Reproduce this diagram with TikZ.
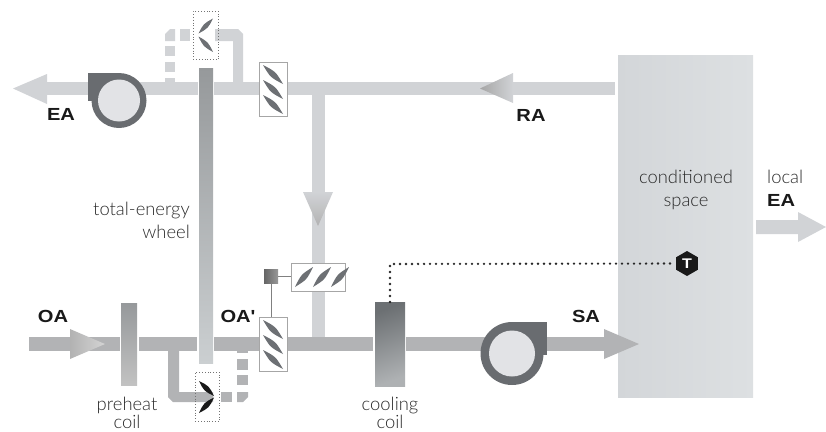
\documentclass[tikz,border=0pt]{standalone}
\usepackage{fontspec}
\setmainfont{Lato}[UprightFont={* Light}]
\newfontfamily\boldlab[FakeStretch=1.15]{Liberation Sans}
\usetikzlibrary{shapes.geometric}
\definecolor{ductup}{HTML}{D1D3D6}
\definecolor{ductlo}{HTML}{B2B3B5}
\definecolor{bladeg}{HTML}{6D7074}
\definecolor{fang}{HTML}{696C70}
\definecolor{fani}{HTML}{E2E3E6}
\definecolor{txt}{HTML}{2A2A2A}
\definecolor{spaceL}{HTML}{D3D6D9}
\definecolor{spaceR}{HTML}{DDE0E2}
\definecolor{coolT}{HTML}{6C7073}
\definecolor{coolB}{HTML}{AEB1B3}
\definecolor{wheelT}{HTML}{96999B}
\definecolor{wheelB}{HTML}{CBCFD1}
\tikzset{
 x=1pt,y=-1pt,
 duu/.style={draw=none,fill=ductup},
 dul/.style={draw=none,fill=ductlo},
 dbox/.style={draw=black!35!white,fill=white,line width=.9pt,minimum width=28pt,minimum height=54pt,inner sep=0pt,anchor=north west},
 dotbox/.style={draw=black!55!white,line width=.8pt,dotted,fill=none,inner sep=0pt,anchor=north west},
 coilbox/.style={inner sep=0pt,anchor=north west},
 lab/.style={font=\fontsize{17.5}{18}\selectfont\boldlab\bfseries,text=black!90!white,inner sep=0pt,anchor=base},
 thin lab/.style={font=\fontsize{18.4}{23}\selectfont,text=txt,inner sep=0pt,align=center},
 coil lab/.style={thin lab,font=\fontsize{18.4}{18.5}\selectfont,anchor=north},
 ctl/.style={draw=black!50!white,line width=1.1pt},
}
\newcommand{\leaf}[6]{% x1 y1 x2 y2 width style
 \fill[#6] (#1,#2) .. controls ({((#1)+(#3))/2+((#4)-(#2))/(#5)},{((#2)+(#4))/2-((#3)-(#1))/(#5)}) .. (#3,#4)
   .. controls ({((#1)+(#3))/2-((#4)-(#2))/(#5)},{((#2)+(#4))/2+((#3)-(#1))/(#5)}) .. cycle;}
\begin{document}
\begin{tikzpicture}
\useasboundingbox (0,0) rectangle (826,431);
\begin{scope}
\clip (0,0) rectangle (826,431);
% conditioned space
\node[minimum width=135pt,minimum height=342pt,inner sep=0pt,draw=none,left color=spaceL,right color=spaceR,anchor=north west] (space) at (618,55) {};
% local EA
\fill[ductup] (756,220) -- (798,220) -- (798,212) -- (826,227) -- (798,242) -- (798,234) -- (756,234) -- cycle;
% upper ducts
\fill[duu] (47,82) rectangle (198,95);
\fill[duu] (214,82) rectangle (615,95);
\fill[duu] (13,88.5) -- (47,74) -- (47,104) -- cycle;
\fill[duu] (312,95) rectangle (325,337);
% return arrow
\path[left color=black!35!white,right color=ductup] (480,88.5) -- (513,73) -- (513,103) -- cycle;
% vertical arrow
\path[top color=ductup,bottom color=black!30!white] (303,192) -- (333,192) -- (318,226) -- cycle;
% upper bypass
\fill[duu] (233,82) -- (233,41) -- (215,41) -- (215,29) -- (238,29) -- (243,34) -- (243,82) -- cycle;
\fill[duu] (180,29) rectangle (190,41);
\fill[duu] (165,41) -- (165,34) -- (170,29) -- (175,29) -- (175,41) -- cycle;
\fill[duu] (165,46) rectangle (175,56);
\fill[duu] (165,62) rectangle (175,72);
\fill[duu] (165,78) rectangle (175,82);
% lower ducts
\fill[dul] (29,337) rectangle (120,351);
\fill[dul] (139,337) rectangle (197,351);
\fill[dul] (214,337) rectangle (373,351);
\fill[dul] (406,337) rectangle (604,351);
\fill[dul] (604,329) -- (639,344) -- (604,359) -- cycle;
\path[left color=black!30!white,right color=black!17!white] (70,329) -- (105,344) -- (70,359) -- cycle;
% lower bypass
\fill[dul] (168,351) -- (179,351) -- (179,392) -- (213,392) -- (213,402) -- (173,402) -- (168,397) -- cycle;
\fill[dul] (221,392) rectangle (232,402);
\fill[dul] (237,392) -- (248,392) -- (248,397) -- (243,402) -- (237,402) -- cycle;
\fill[dul] (237,375) rectangle (248,385);
\fill[dul] (237,359) rectangle (248,370);
\fill[dul] (237,351) rectangle (248,353);
% wheel and coils
\node[coilbox,top color=wheelT,bottom color=wheelB,minimum width=14pt,minimum height=295pt] (wheel) at (199,68) {};
\node[coilbox,top color=wheelT,bottom color=black!24!white,minimum width=16pt,minimum height=82pt] (preheat) at (121,303) {};
\node[coilbox,top color=coolT,bottom color=coolB,shading angle=20,minimum width=30pt,minimum height=84pt] (cooling) at (375,302) {};
% fans
\fill[fang] (88,73) rectangle (119,101);
\fill[fang] (119,100.5) circle[radius=27.5pt];
\node[circle,fill=fani,inner sep=0pt,minimum size=42pt] (fanE) at (119,100.5) {};
\fill[fang] (512,322) rectangle (547,355);
\fill[fang] (512,353.5) circle[radius=31.5pt];
\node[circle,fill=fani,inner sep=0pt,minimum size=46pt] (fanS) at (512,353.5) {};
% dampers
\node[dbox] (dtop) at (259,62) {};
\node[dbox] (dlow) at (259,317) {};
\node[dbox,minimum width=54pt,minimum height=28pt] (dhor) at (291,263) {};
\foreach \o in {0,15,30}{
  \leaf{263}{65+\o}{283}{84+\o}{7}{bladeg}
  \leaf{263}{320+\o}{283}{339+\o}{7}{bladeg}
}
\foreach \o in {0,18,36}{
  \leaf{295+\o}{287}{313+\o}{267}{7}{bladeg}
}
% actuator
\node[minimum size=14pt,inner sep=0pt,left color=black!60!white,right color=black!40!white,anchor=north west] (act) at (264,269) {};
\draw[ctl] (act.south) -- (act.south |- dlow.north);
\draw[ctl] (act.east) -- (act.east -| dhor.west);
% bypass dampers
\node[dotbox,minimum width=25pt,minimum height=48pt] (btop) at (193,11) {};
\leaf{198.5}{33.5}{213}{18.5}{6.5}{bladeg}
\leaf{198.5}{36.5}{213}{52}{6.5}{bladeg}
\node[dotbox,minimum width=24pt,minimum height=49pt] (blow) at (195,372) {};
\leaf{199}{381}{214}{396}{6}{black!90!white}
\leaf{199}{413}{214}{397.5}{6}{black!90!white}
% sensor
\node[regular polygon,regular polygon sides=6,shape border rotate=30,fill=black!90!white,inner sep=0pt,minimum size=25pt,text=white,font=\fontsize{14}{14}\selectfont\boldlab\bfseries] (sens) at (687,263.5) {T};
\coordinate (cc) at (390,302);
\draw[black!85!white,line width=2.6pt,line cap=round,dash pattern=on 0pt off 6pt] (cc) -- (390,264) -- (sens.west);
% labels
\node[lab] (lEA) at (61,120.5) {EA};
\node[lab] (lRA) at (531,121) {RA};
\node[lab] (lOA) at (53,322) {OA};
\node[lab] (lOAp) at (238,322) {OA'};
\node[lab] (lSA) at (586,322) {SA};
\node[coil lab] (tp) at (127,396.5) {preheat\\coil};
\node[coil lab] (tc) at (390,396.5) {cooling\\coil};
\node[thin lab,align=right,anchor=north east] (tw) at (190,201.5) {total-energy\\wheel};
\node[thin lab,anchor=north] (ts) at (686,169.5) {conditioned\\space};
\node[thin lab,anchor=north west] (tl) at (767,169.5) {local};
\node[lab,anchor=base west] (lEA2) at (767,206) {EA};
\end{scope}
\end{tikzpicture}
\end{document}
